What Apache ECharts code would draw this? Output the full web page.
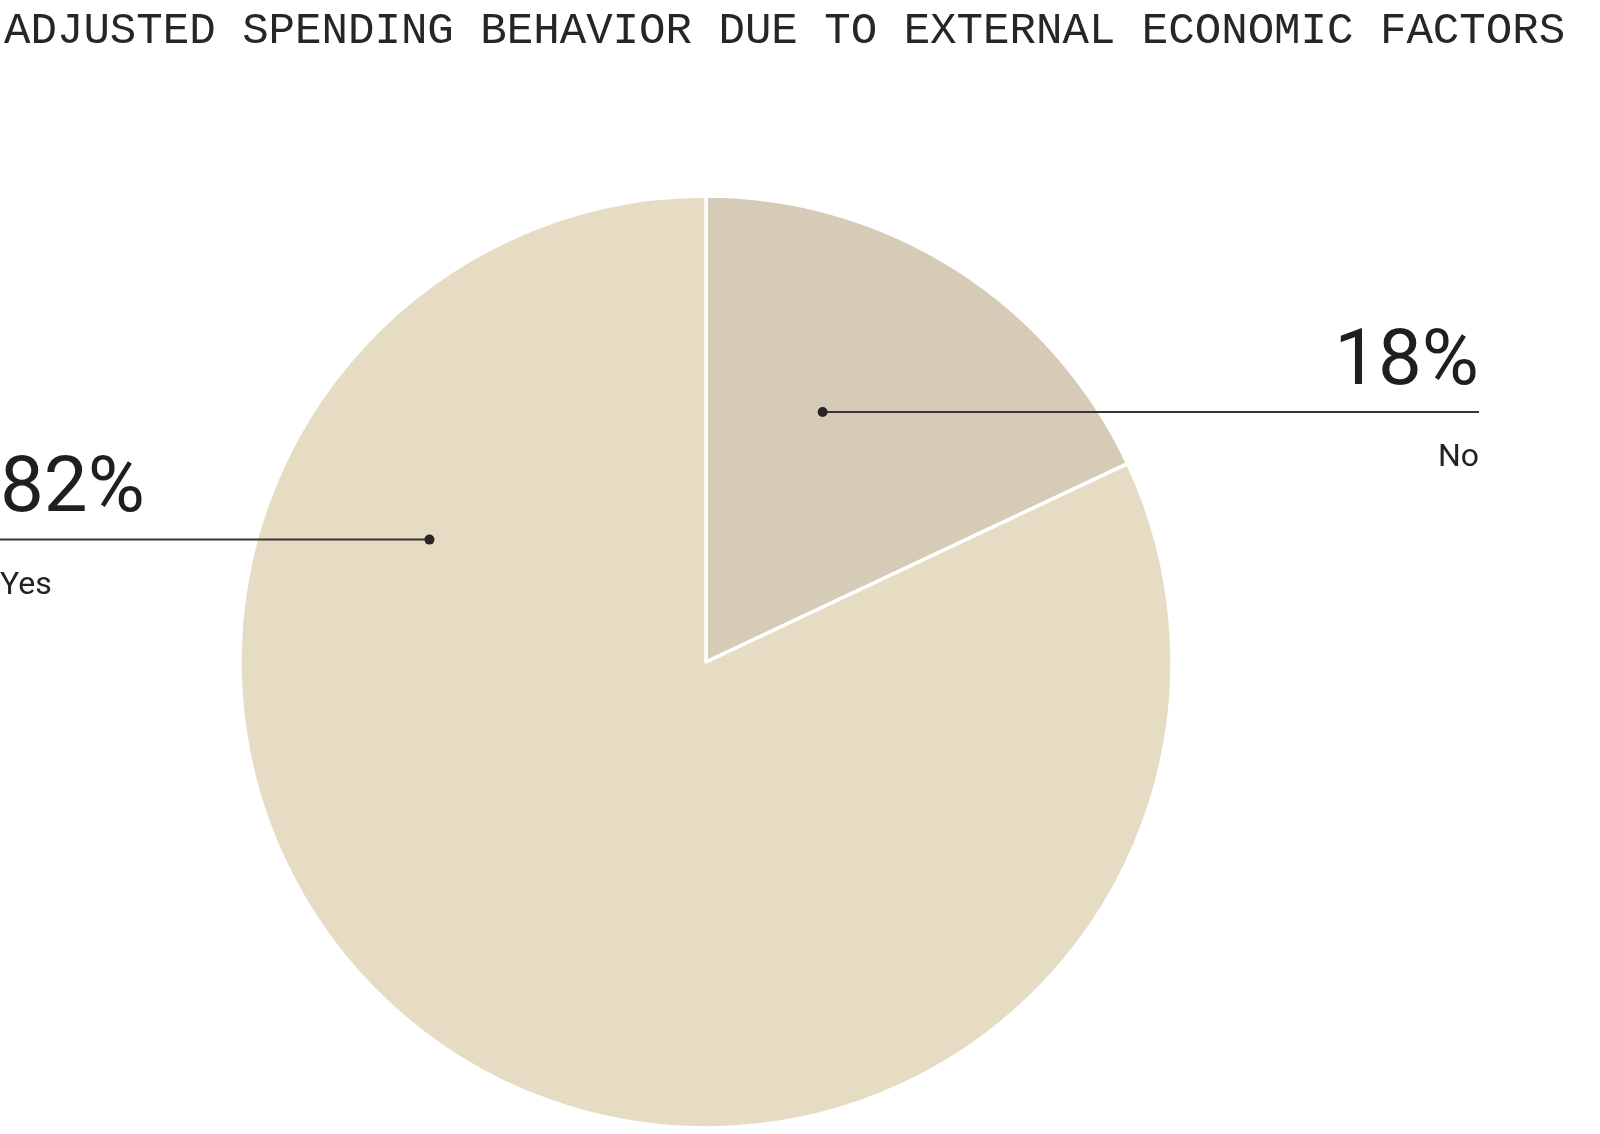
<!DOCTYPE html>
<html>
<head>
<meta charset="utf-8">
<script src="https://cdn.jsdelivr.net/npm/echarts@6/dist/echarts.min.js"></script>
<style>
html,body{margin:0;padding:0;background:#fff;}
#chart{width:1600px;height:1134px;}
</style>
</head>
<body>
<div id="chart"></div>
<script>
// ---- data ----
const titleText = 'ADJUSTED SPENDING BEHAVIOR DUE TO EXTERNAL ECONOMIC FACTORS';
const categories = ['No', 'Yes'];
const values = [18, 82];
const sliceColors = ['#d6cbb7', '#e6dcc4'];

// ---- layout ----
const CX = 706, CY = 662, R = 466;
const anchorFrac = [0.386, 0.776];      // position of dot along slice angle span
const anchorRad = [0.592, 0.649];       // radial position of dot
const labelSide = ['right', 'left'];
const labelEdgeRight = 1479, labelEdgeLeft = 0;

const total = values.reduce((a, b) => a + b, 0);
function anchorPoint(i) {
  let start = 0;
  for (let k = 0; k < i; k++) start += values[k] / total * 360;
  const span = values[i] / total * 360;
  const a = (start + anchorFrac[i] * span) * Math.PI / 180;
  const r = anchorRad[i] * R;
  return [CX + r * Math.sin(a), CY - r * Math.cos(a)];
}

const chart = echarts.init(document.getElementById('chart'));
const leaders = [];
categories.forEach((c, i) => {
  const p = anchorPoint(i);
  const endX = labelSide[i] === 'right' ? labelEdgeRight : labelEdgeLeft;
  leaders.push({
    type: 'line', silent: true, z: 99,
    shape: { x1: p[0], y1: p[1], x2: endX, y2: p[1] },
    style: { stroke: '#3b3434', lineWidth: 2 }
  });
  leaders.push({
    type: 'circle', silent: true, z: 100,
    shape: { cx: p[0], cy: p[1], r: 5 },
    style: { fill: '#2a2424' }
  });
});

chart.setOption({
  animation: false,
  backgroundColor: '#ffffff',
  title: {
    text: titleText,
    left: -1, top: 4,
    textStyle: {
      fontFamily: 'Liberation Mono', fontSize: 44.1, fontWeight: 'normal',
      color: '#262626', lineHeight: 44
    }
  },
  graphic: leaders,
  series: [{
    type: 'pie',
    center: [CX, CY],
    radius: R,
    startAngle: 90,
    clockwise: true,
    silent: true,
    avoidLabelOverlap: false,
    data: categories.map((c, i) => ({
      name: c, value: values[i],
      itemStyle: { color: sliceColors[i] }
    })),
    itemStyle: { borderColor: '#ffffff', borderWidth: 3.5 },
    label: {
      show: true,
      formatter: '{pct|{c}%}\n{name|{b}}',
      rich: {
        pct: { fontFamily: 'Roboto', fontSize: 78, color: '#1f1f1f', lineHeight: 110 },
        name: { fontFamily: 'Roboto', fontSize: 32, color: '#222222', lineHeight: 78 }
      }
    },
    labelLine: { show: false },
    labelLayout: function (params) {
      const i = params.dataIndex;
      const p = anchorPoint(i);
      const right = labelSide[i] === 'right';
      return {
        x: right ? labelEdgeRight : labelEdgeLeft,
        y: p[1] - 103,
        align: right ? 'right' : 'left',
        verticalAlign: 'top'
      };
    }
  }]
});
</script>
</body>
</html>
